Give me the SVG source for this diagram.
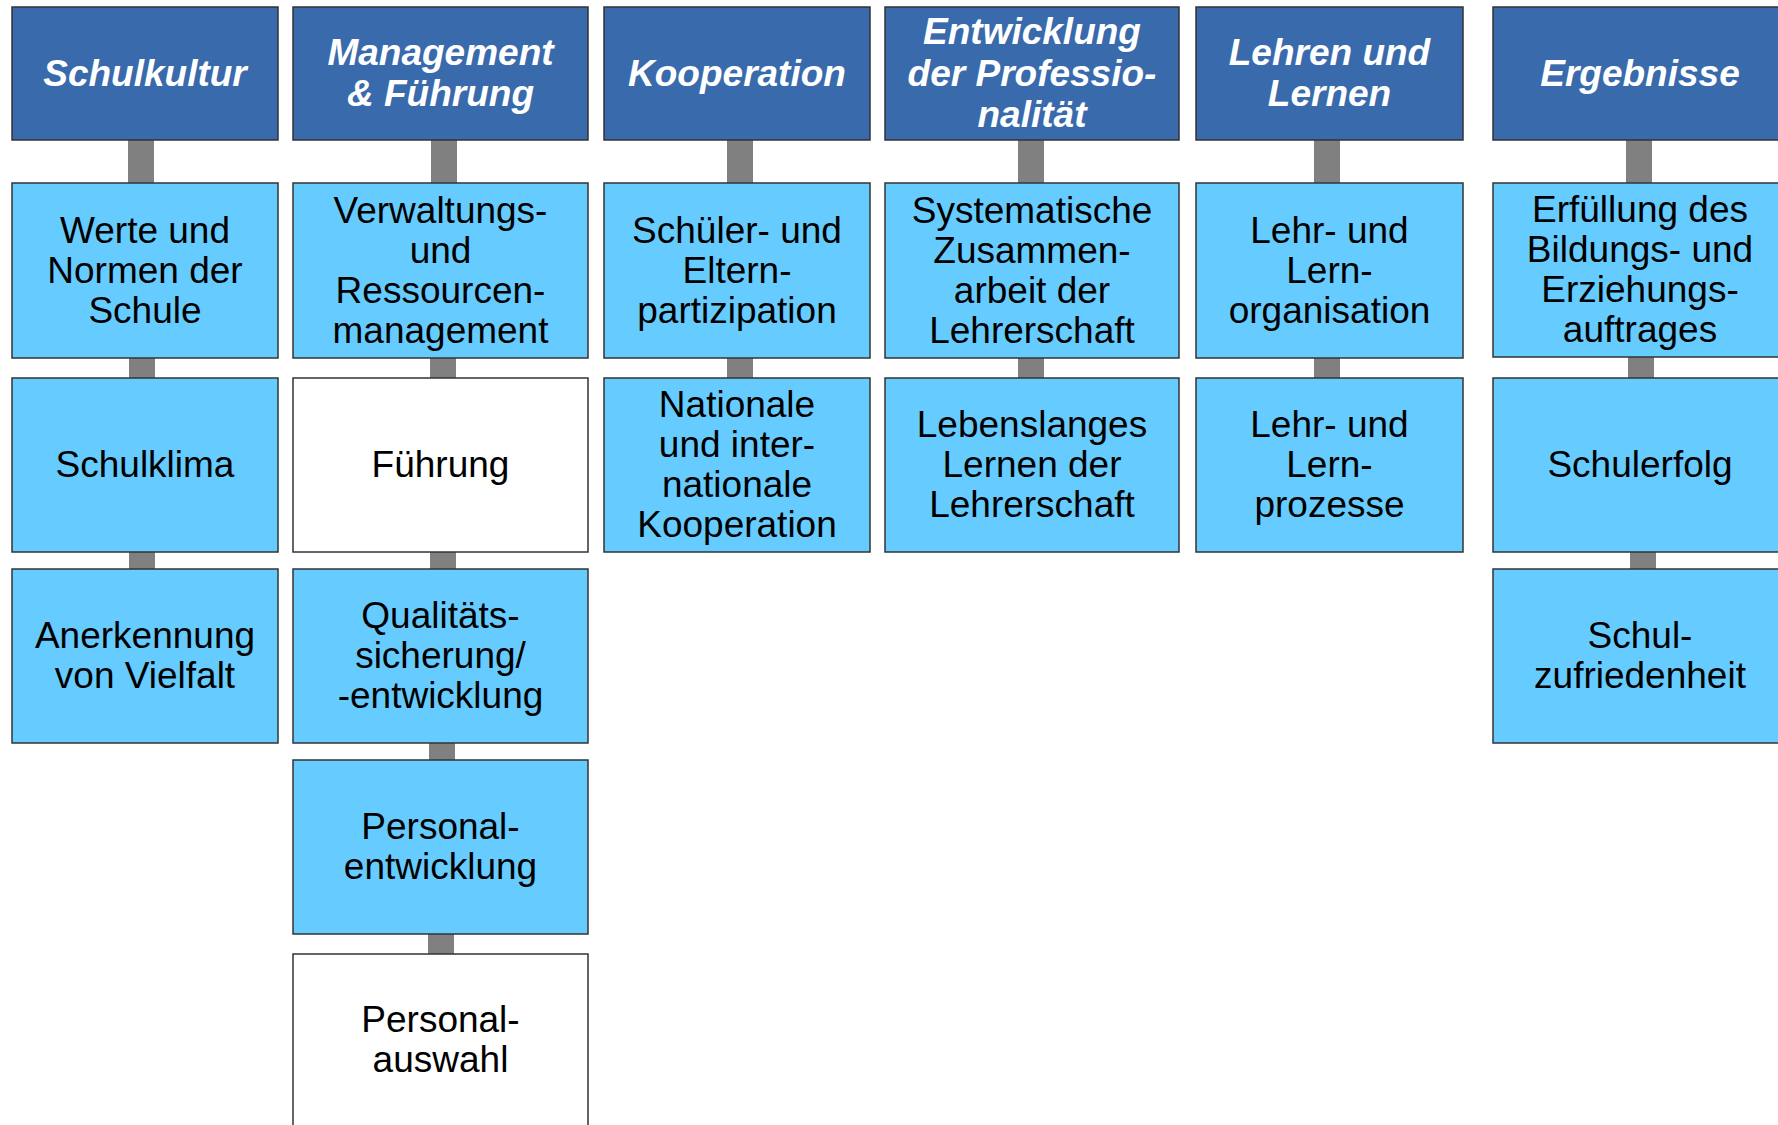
<svg xmlns="http://www.w3.org/2000/svg" width="1778" height="1125" viewBox="0 0 1778 1125">
<style>
.hd{fill:#396AAC;stroke:#333;stroke-width:1.5}
.bx{fill:#66CCFF;stroke:#333;stroke-width:1.5}
.wb{fill:#FFFFFF;stroke:#333;stroke-width:1.5}
.cn{fill:#808080}
.ht{font-family:"Liberation Sans",Arial,sans-serif;font-size:37px;font-weight:bold;font-style:italic;fill:#FFFFFF;text-anchor:middle}
.bt{font-family:"Liberation Sans",Arial,sans-serif;font-size:37px;fill:#000000;text-anchor:middle}
</style>
<rect width="1778" height="1125" fill="#FFFFFF"/>
<g id="connectors">
<rect class="cn" x="128" y="140" width="26" height="43"/>
<rect class="cn" x="129" y="358" width="26" height="20"/>
<rect class="cn" x="129" y="552" width="26" height="17"/>
<rect class="cn" x="431" y="140" width="26" height="43"/>
<rect class="cn" x="430" y="358" width="26" height="20"/>
<rect class="cn" x="430" y="552" width="26" height="17"/>
<rect class="cn" x="429" y="743" width="26" height="17"/>
<rect class="cn" x="428" y="934" width="26" height="20"/>
<rect class="cn" x="727" y="140" width="26" height="43"/>
<rect class="cn" x="727" y="358" width="26" height="20"/>
<rect class="cn" x="1018" y="140" width="26" height="43"/>
<rect class="cn" x="1018" y="358" width="26" height="20"/>
<rect class="cn" x="1314" y="140" width="26" height="43"/>
<rect class="cn" x="1314" y="358" width="26" height="20"/>
<rect class="cn" x="1626" y="140" width="26" height="43"/>
<rect class="cn" x="1628" y="357" width="26" height="21"/>
<rect class="cn" x="1630" y="552" width="26" height="17"/>
</g>
<g id="h1"><rect class="hd" x="12" y="7" width="266" height="133"/><text class="ht" x="145" y="85.5">Schulkultur</text></g>
<g id="h2"><rect class="hd" x="293" y="7" width="295" height="133"/><text class="ht" x="440.5" y="64.75">Management</text><text class="ht" x="440.5" y="106.25">&amp; Führung</text></g>
<g id="h3"><rect class="hd" x="604" y="7" width="266" height="133"/><text class="ht" x="737" y="85.5">Kooperation</text></g>
<g id="h4"><rect class="hd" x="885" y="7" width="294" height="133"/><text class="ht" x="1032" y="44">Entwicklung</text><text class="ht" x="1032" y="85.5">der Professio-</text><text class="ht" x="1032" y="127">nalität</text></g>
<g id="h5"><rect class="hd" x="1196" y="7" width="267" height="133"/><text class="ht" x="1329.5" y="64.75">Lehren und</text><text class="ht" x="1329.5" y="106.25">Lernen</text></g>
<g id="h6"><rect class="hd" x="1493" y="7" width="294" height="133"/><text class="ht" x="1640" y="85.5">Ergebnisse</text></g>

<g id="n1a"><rect class="bx" x="12" y="183" width="266" height="175"/><text class="bt" x="145" y="242.5">Werte und</text><text class="bt" x="145" y="282.5">Normen der</text><text class="bt" x="145" y="322.5">Schule</text></g>
<g id="n1b"><rect class="bx" x="12" y="378" width="266" height="174"/><text class="bt" x="145" y="477">Schulklima</text></g>
<g id="n1c"><rect class="bx" x="12" y="569" width="266" height="174"/><text class="bt" x="145" y="648">Anerkennung</text><text class="bt" x="145" y="688">von Vielfalt</text></g>

<g id="n2a"><rect class="bx" x="293" y="183" width="295" height="175"/><text class="bt" x="440.5" y="222.5">Verwaltungs-</text><text class="bt" x="440.5" y="262.5">und</text><text class="bt" x="440.5" y="302.5">Ressourcen-</text><text class="bt" x="440.5" y="342.5">management</text></g>
<g id="n2b"><rect class="wb" x="293" y="378" width="295" height="174"/><text class="bt" x="440.5" y="477">Führung</text></g>
<g id="n2c"><rect class="bx" x="293" y="569" width="295" height="174"/><text class="bt" x="440.5" y="628">Qualitäts-</text><text class="bt" x="440.5" y="668">sicherung/</text><text class="bt" x="440.5" y="708">-entwicklung</text></g>
<g id="n2d"><rect class="bx" x="293" y="760" width="295" height="174"/><text class="bt" x="440.5" y="839">Personal-</text><text class="bt" x="440.5" y="879">entwicklung</text></g>
<g id="n2e"><rect class="wb" x="293" y="954" width="295" height="173"/><text class="bt" x="440.5" y="1032">Personal-</text><text class="bt" x="440.5" y="1072">auswahl</text></g>

<g id="n3a"><rect class="bx" x="604" y="183" width="266" height="175"/><text class="bt" x="737" y="242.5">Schüler- und</text><text class="bt" x="737" y="282.5">Eltern-</text><text class="bt" x="737" y="322.5">partizipation</text></g>
<g id="n3b"><rect class="bx" x="604" y="378" width="266" height="174"/><text class="bt" x="737" y="417">Nationale</text><text class="bt" x="737" y="457">und inter-</text><text class="bt" x="737" y="497">nationale</text><text class="bt" x="737" y="537">Kooperation</text></g>

<g id="n4a"><rect class="bx" x="885" y="183" width="294" height="175"/><text class="bt" x="1032" y="222.5">Systematische</text><text class="bt" x="1032" y="262.5">Zusammen-</text><text class="bt" x="1032" y="302.5">arbeit der</text><text class="bt" x="1032" y="342.5">Lehrerschaft</text></g>
<g id="n4b"><rect class="bx" x="885" y="378" width="294" height="174"/><text class="bt" x="1032" y="437">Lebenslanges</text><text class="bt" x="1032" y="477">Lernen der</text><text class="bt" x="1032" y="517">Lehrerschaft</text></g>

<g id="n5a"><rect class="bx" x="1196" y="183" width="267" height="175"/><text class="bt" x="1329.5" y="242.5">Lehr- und</text><text class="bt" x="1329.5" y="282.5">Lern-</text><text class="bt" x="1329.5" y="322.5">organisation</text></g>
<g id="n5b"><rect class="bx" x="1196" y="378" width="267" height="174"/><text class="bt" x="1329.5" y="437">Lehr- und</text><text class="bt" x="1329.5" y="477">Lern-</text><text class="bt" x="1329.5" y="517">prozesse</text></g>

<g id="n6a"><rect class="bx" x="1493" y="183" width="294" height="174"/><text class="bt" x="1640" y="222">Erfüllung des</text><text class="bt" x="1640" y="262">Bildungs- und</text><text class="bt" x="1640" y="302">Erziehungs-</text><text class="bt" x="1640" y="342">auftrages</text></g>
<g id="n6b"><rect class="bx" x="1493" y="378" width="294" height="174"/><text class="bt" x="1640" y="477">Schulerfolg</text></g>
<g id="n6c"><rect class="bx" x="1493" y="569" width="294" height="174"/><text class="bt" x="1640" y="648">Schul-</text><text class="bt" x="1640" y="688">zufriedenheit</text></g>
</svg>
